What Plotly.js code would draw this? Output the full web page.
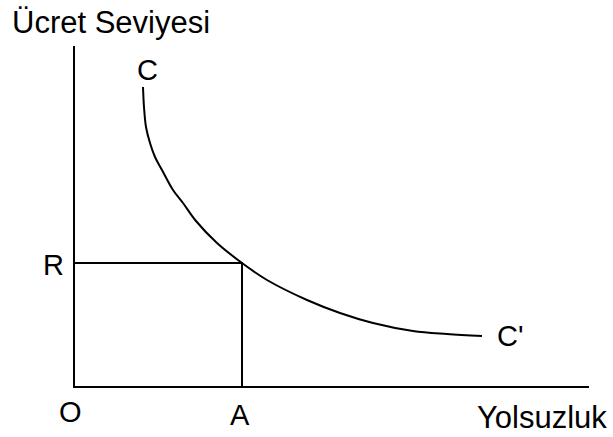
<!DOCTYPE html>
<html>
<head>
<meta charset="utf-8">
<script src="https://cdn.plot.ly/plotly-3.0.1.min.js"></script>
<style>
  html, body { margin: 0; padding: 0; background: #fff; }
  #chart { width: 613px; height: 437px; }
</style>
</head>
<body>
<div id="chart"></div>
<script>
// curve C - C' (units measured from origin O)
const curveX = [68, 69, 71, 75, 80, 87, 98, 108, 121, 142, 167, 192, 232, 265, 298, 338, 372, 407];
const curveY = [299, 279, 259, 243, 229, 216, 196, 183, 165, 143, 123, 106, 86, 73, 63, 55, 52, 50];

// point on the curve
const pointA = 167;
const pointR = 123;

// axis extent
const xMax = 514;
const yMax = 340;

const lineStyle = { color: '#000', width: 2 };
const labelFont = { family: 'Liberation Sans, Arial, sans-serif', size: 29, color: '#000' };
const titleFont = { family: 'Liberation Sans, Arial, sans-serif', size: 31, color: '#000' };

const data = [
    {
        x: curveX,
        y: curveY,
        type: 'scatter',
        mode: 'lines',
        line: { color: '#000', width: 2, shape: 'spline', smoothing: 1 },
        hoverinfo: 'skip'
    },
    {
        // R line and A line
        x: [0, pointA, pointA],
        y: [pointR, pointR, 0],
        type: 'scatter',
        mode: 'lines',
        line: lineStyle,
        hoverinfo: 'skip'
    }
];

const layout = {
    width: 613,
    height: 437,
    margin: { l: 75, r: 24, t: 46, b: 51 },
    paper_bgcolor: '#fff',
    plot_bgcolor: '#fff',
    showlegend: false,
    xaxis: {
        range: [0, xMax],
        showline: true, linecolor: '#000', linewidth: 2,
        showgrid: false, zeroline: false, showticklabels: false, ticks: ''
    },
    yaxis: {
        range: [0, yMax],
        showline: true, linecolor: '#000', linewidth: 2,
        showgrid: false, zeroline: false, showticklabels: false, ticks: ''
    },
    annotations: [
        { text: 'Ücret Seviyesi', xref: 'paper', yref: 'paper', x: -0.127, y: 1.068, xanchor: 'left', yanchor: 'middle', showarrow: false, font: titleFont },
        { text: 'Yolsuzluk', xref: 'paper', yref: 'paper', x: 1.039, y: -0.094, xanchor: 'right', yanchor: 'middle', showarrow: false, font: titleFont },
        { text: 'C', x: curveX[0] + 4, y: curveY[0] + 17, xanchor: 'center', yanchor: 'middle', showarrow: false, font: labelFont },
        { text: "C'", x: curveX[curveX.length - 1] + 13, y: curveY[curveY.length - 1], xanchor: 'left', yanchor: 'middle', showarrow: false, font: labelFont },
        { text: 'R', x: 0, y: pointR - 2, xshift: -22, xanchor: 'center', yanchor: 'middle', showarrow: false, font: labelFont },
        { text: 'A', x: pointA - 2, y: 0, yshift: -29, xanchor: 'center', yanchor: 'middle', showarrow: false, font: labelFont },
        { text: 'O', x: 0, y: 0, xshift: -5, yshift: -26, xanchor: 'center', yanchor: 'middle', showarrow: false, font: labelFont }
    ]
};

Plotly.newPlot('chart', data, layout, { displayModeBar: false, staticPlot: true });
</script>
</body>
</html>
